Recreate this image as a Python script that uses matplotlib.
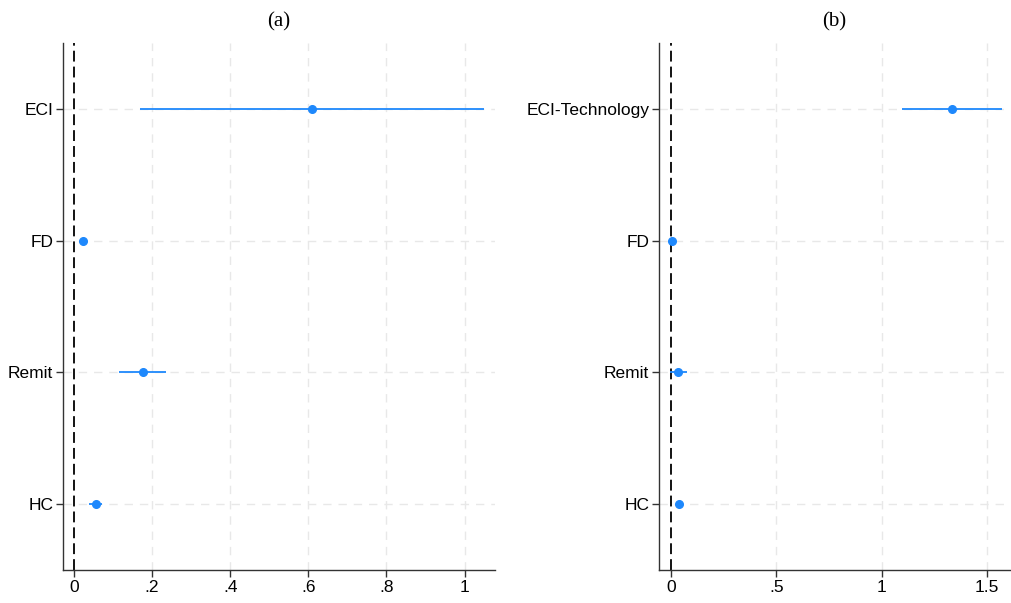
import matplotlib
matplotlib.use("Agg")
import matplotlib.pyplot as plt

# panel (a)
labels_a = ["ECI", "FD", "Remit", "HC"]
coef_a = [0.609, 0.022, 0.176, 0.056]
lo_a = [0.170, 0.018, 0.116, 0.039]
hi_a = [1.049, 0.026, 0.235, 0.073]
xticks_a = [0, 0.2, 0.4, 0.6, 0.8, 1.0]
xlabels_a = ["0", ".2", ".4", ".6", ".8", "1"]

# panel (b)
labels_b = ["ECI-Technology", "FD", "Remit", "HC"]
coef_b = [1.332, 0.002, 0.033, 0.037]
lo_b = [1.097, -0.002, -0.006, 0.030]
hi_b = [1.570, 0.006, 0.073, 0.044]
xticks_b = [0, 0.5, 1.0, 1.5]
xlabels_b = ["0", ".5", "1", "1.5"]

BLUE = "#1e88fc"
W, H = 1012, 603

fig = plt.figure(figsize=(W / 100, H / 100), dpi=100)
ax_a = fig.add_axes([63 / W, 1 - 570 / H, (495 - 63) / W, (570 - 43) / H])
ax_b = fig.add_axes([659 / W, 1 - 570 / H, (1010 - 659) / W, (570 - 43) / H])


def draw(ax, title, labels, coef, lo, hi, xticks, xlabels, xlim):
    ypos = list(range(1, len(labels) + 1))
    ax.hlines(ypos, lo, hi, color=BLUE, lw=1.3, zorder=3)
    ax.plot(coef, ypos, "o", color=BLUE, ms=5.5, zorder=4)
    ax.axvline(0, color="black", lw=1.3, ls=(0, (6, 2.8)), zorder=2)
    ax.set_xlim(*xlim)
    ax.set_ylim(4.5, 0.5)
    ax.set_yticks(ypos)
    ax.set_yticklabels(labels, fontsize=12.5, family="Liberation Sans")
    ax.set_xticks(xticks)
    ax.set_xticklabels(xlabels, fontsize=12.5, family="Liberation Sans")
    for x in xticks[1:]:
        ax.axvline(x, color="#e8e8e8", lw=1.0, ls=(0, (6, 5)), zorder=1)
    for y in ypos:
        ax.axhline(y, color="#e8e8e8", lw=1.0, ls=(0, (6, 5)), zorder=1)
    for s in ["top", "right"]:
        ax.spines[s].set_visible(False)
    for s in ["left", "bottom"]:
        ax.spines[s].set_color("#333333")
        ax.spines[s].set_linewidth(1.0)
    ax.tick_params(direction="out", length=5, width=1.0, color="#333333", pad=2)
    ax.set_title(title, fontsize=15, family="Liberation Serif", pad=12)


draw(ax_a, "(a)", labels_a, coef_a, lo_a, hi_a, xticks_a, xlabels_a, (-0.028, 1.078))
draw(ax_b, "(b)", labels_b, coef_b, lo_b, hi_b, xticks_b, xlabels_b, (-0.058, 1.609))

fig.savefig("out.png", dpi=100)
